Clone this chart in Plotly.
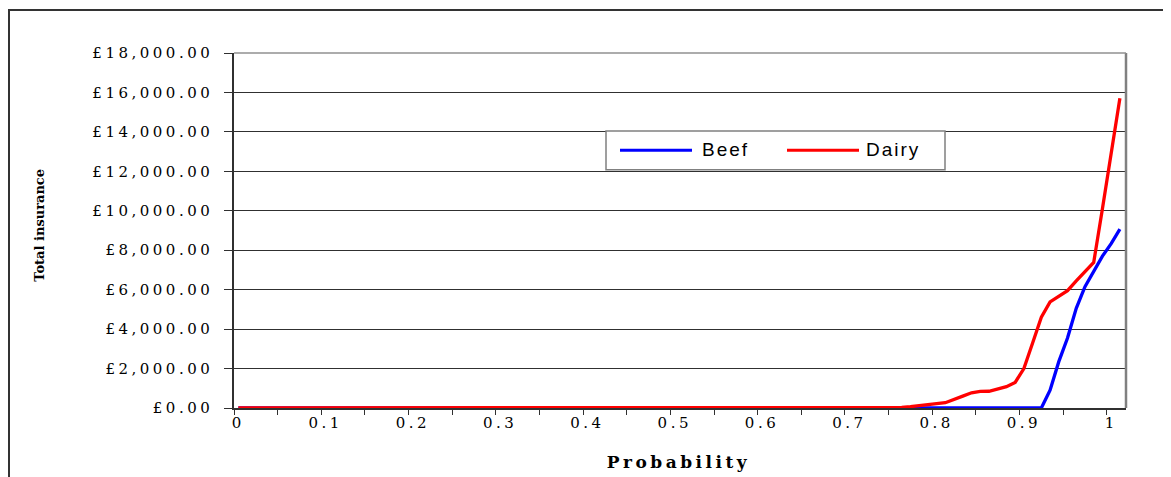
import plotly.graph_objects as go

# ---- data ----
probability = [0.00, 0.01, 0.02, 0.03, 0.04, 0.05, 0.06, 0.07, 0.08, 0.09,
               0.10, 0.11, 0.12, 0.13, 0.14, 0.15, 0.16, 0.17, 0.18, 0.19,
               0.20, 0.21, 0.22, 0.23, 0.24, 0.25, 0.26, 0.27, 0.28, 0.29,
               0.30, 0.31, 0.32, 0.33, 0.34, 0.35, 0.36, 0.37, 0.38, 0.39,
               0.40, 0.41, 0.42, 0.43, 0.44, 0.45, 0.46, 0.47, 0.48, 0.49,
               0.50, 0.51, 0.52, 0.53, 0.54, 0.55, 0.56, 0.57, 0.58, 0.59,
               0.60, 0.61, 0.62, 0.63, 0.64, 0.65, 0.66, 0.67, 0.68, 0.69,
               0.70, 0.71, 0.72, 0.73, 0.74, 0.75, 0.76, 0.77, 0.78, 0.79,
               0.80, 0.81, 0.82, 0.83, 0.84, 0.85, 0.86, 0.87, 0.88, 0.89,
               0.90, 0.91, 0.92, 0.93, 0.94, 0.95, 0.96, 0.97, 0.98, 0.99,
               1.00, 1.01]

beef = [0, 0, 0, 0, 0, 0, 0, 0, 0, 0,
        0, 0, 0, 0, 0, 0, 0, 0, 0, 0,
        0, 0, 0, 0, 0, 0, 0, 0, 0, 0,
        0, 0, 0, 0, 0, 0, 0, 0, 0, 0,
        0, 0, 0, 0, 0, 0, 0, 0, 0, 0,
        0, 0, 0, 0, 0, 0, 0, 0, 0, 0,
        0, 0, 0, 0, 0, 0, 0, 0, 0, 0,
        0, 0, 0, 0, 0, 0, 0, 0, 0, 0,
        0, 0, 0, 0, 0, 0, 0, 0, 0, 0,
        0, 0, 0, 900, 2350, 3550, 5050, 6150, 6900, 7700,
        8330, 9070]

dairy = [0, 0, 0, 0, 0, 0, 0, 0, 0, 0,
         0, 0, 0, 0, 0, 0, 0, 0, 0, 0,
         0, 0, 0, 0, 0, 0, 0, 0, 0, 0,
         0, 0, 0, 0, 0, 0, 0, 0, 0, 0,
         0, 0, 0, 0, 0, 0, 0, 0, 0, 0,
         0, 0, 0, 0, 0, 0, 0, 0, 0, 0,
         0, 0, 0, 0, 0, 0, 0, 0, 0, 0,
         0, 0, 0, 0, 0, 0, 30, 70, 130, 200,
         220, 270, 420, 600, 770, 840, 850, 960, 1080, 1300,
         2000, 3300, 4600, 5380, 5680, 5950, 6450, 6900, 7380, 10100,
         12900, 15700]

series_names = ["Beef", "Dairy"]
series_colors = ["#0000FF", "#FF0000"]

x_tick_vals = [0, 0.1, 0.2, 0.3, 0.4, 0.5, 0.6, 0.7, 0.8, 0.9, 1.0]
x_tick_text = ["0", "0.1", "0.2", "0.3", "0.4", "0.5", "0.6", "0.7", "0.8", "0.9", "1"]
y_tick_vals = [0, 2000, 4000, 6000, 8000, 10000, 12000, 14000, 16000, 18000]
y_tick_text = ["£0.00", "£2,000.00", "£4,000.00", "£6,000.00", "£8,000.00",
               "£10,000.00", "£12,000.00", "£14,000.00", "£16,000.00", "£18,000.00"]

# ---- layout geometry (page px; the page body has an 8px margin) ----
OFF = 8
PAGE_W, PAGE_H = 1171, 477
W, H = PAGE_W - OFF, PAGE_H - OFF
L, R, T, B = 234, 1126, 53, 408.5
pw, ph = R - L, B - T


def px_x(px):
    return (px - L) / pw


def px_y(py):
    return (B - py) / ph


SERIF = "DejaVu Serif"
SANS = "Liberation Sans"

fig = go.Figure()
for name, ys, col in [(series_names[0], beef, series_colors[0]),
                      (series_names[1], dairy, series_colors[1])]:
    fig.add_trace(go.Scatter(x=probability, y=ys, mode="lines", name=name,
                             line=dict(color=col, width=3.3), showlegend=False))

fig.update_layout(
    width=W, height=H,
    margin=dict(l=L - OFF, r=PAGE_W - R, t=T - OFF, b=PAGE_H - B, pad=0),
    paper_bgcolor="white", plot_bgcolor="white",
    showlegend=False,
    font=dict(family=SERIF, color="black"),
)

fig.update_xaxes(
    range=[-0.005, 1.017],
    tickvals=x_tick_vals, ticktext=x_tick_text,
    ticks="", showgrid=False, zeroline=False,
    showline=True, linecolor="#303030", linewidth=1.5,
    tickfont=dict(family=SERIF, size=15, color="black"),
    minor=dict(tick0=-0.005, dtick=0.05, ticks="outside", ticklen=5,
               tickcolor="#303030", tickwidth=1, showgrid=False),
    ticklabelstandoff=0,
    layer="below traces",
)

fig.update_yaxes(
    range=[0, 18000],
    tickvals=y_tick_vals, ticktext=y_tick_text,
    ticks="outside", ticklen=8, tickcolor="#303030", tickwidth=1,
    showgrid=True, gridcolor="#303030", gridwidth=1,
    zeroline=False,
    showline=True, linecolor="#303030", linewidth=1.5,
    tickfont=dict(family=SERIF, size=15, color="black"),
    ticklabelstandoff=8,
    layer="below traces",
)

# plot-area right border (grey) and top border
fig.add_shape(type="line", xref="paper", yref="paper", x0=1, x1=1, y0=0, y1=1,
              line=dict(color="#808080", width=2.5))
fig.add_shape(type="line", xref="paper", yref="paper", x0=0, x1=1, y0=1, y1=1,
              line=dict(color="#909090", width=1.5))

# outer chart border (extends beyond the visible window on right/bottom)
fig.add_shape(type="rect", xref="paper", yref="paper",
              x0=px_x(9), x1=px_x(1200), y0=px_y(520), y1=px_y(10),
              line=dict(color="#333333", width=2), layer="below")

# legend (box, sample lines, labels)
fig.add_shape(type="rect", xref="paper", yref="paper",
              x0=px_x(606), x1=px_x(945), y0=px_y(170), y1=px_y(131),
              line=dict(color="#808080", width=1.5), fillcolor="white", layer="above")
legend_line_x = [(620, 692), (787, 859)]
legend_text_x = [704, 869]
for i in range(2):
    fig.add_shape(type="line", xref="paper", yref="paper",
                  x0=px_x(legend_line_x[i][0]), x1=px_x(legend_line_x[i][1]),
                  y0=px_y(150.5), y1=px_y(150.5),
                  line=dict(color=series_colors[i], width=3), layer="above")
    fig.add_annotation(text=series_names[i], xref="paper", yref="paper",
                       x=px_x(legend_text_x[i]), y=px_y(150), xanchor="left",
                       yanchor="middle", showarrow=False,
                       font=dict(family=SANS, size=19, color="black"))

# axis titles
fig.add_annotation(text="<b>Probability</b>", xref="paper", yref="paper",
                   x=px_x(679), y=px_y(463), xanchor="center", yanchor="middle",
                   showarrow=False, font=dict(family=SERIF, size=17, color="black"))
fig.add_annotation(text="<b>Total insurance</b>", xref="paper", yref="paper",
                   x=px_x(40), y=px_y(226), xanchor="center", yanchor="middle",
                   textangle=-90, showarrow=False,
                   font=dict(family=SERIF, size=13, color="black"))

# the reference's lettering is drawn wide; widen the horizontal labels a little
post = """
var gd = document.getElementById('{plot_id}');
function widen() {
  gd.querySelectorAll('g.xtick text, g.ytick text').forEach(function (t) {
    t.style.letterSpacing = '3.5px';
  });
  gd.querySelectorAll('.annotation-text').forEach(function (t) {
    var s = t.textContent;
    if (s === 'Probability') { t.style.letterSpacing = '3.5px'; }
    else if (s === 'Beef' || s === 'Dairy') { t.style.letterSpacing = '2px'; }
  });
}
widen();
gd.on && gd.on('plotly_afterplot', widen);
"""

fig.write_html("out.html", post_script=post)
